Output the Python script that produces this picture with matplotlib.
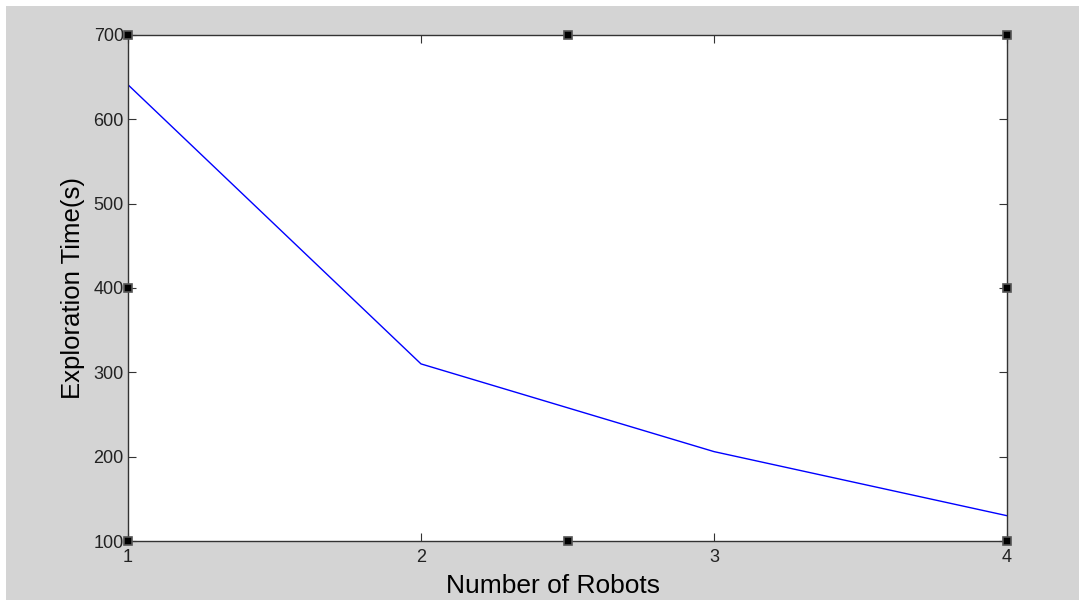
import matplotlib
matplotlib.use("Agg")
import matplotlib.pyplot as plt
from matplotlib.patches import Rectangle

robots = [1, 2, 3, 4]
exploration_time = [641, 310, 206, 130]
xticks = [1, 2, 3, 4]
yticks = [100, 200, 300, 400, 500, 600, 700]

plt.rcParams['font.family'] = ['Liberation Sans', 'DejaVu Sans']

W, H = 1079, 600
fig = plt.figure(figsize=(W / 100, H / 100), dpi=100, facecolor='white')
fig.patches.append(Rectangle((6 / W, 0), 1 - 6 / W, 1 - 6 / H, transform=fig.transFigure,
                             facecolor='#d4d4d4', edgecolor='none', zorder=-10))

ax = fig.add_axes([128 / W, 1 - 541 / H, (1007 - 128) / W, (541 - 35) / H])
ax.set_zorder(1)
ax.set_facecolor('white')
ax.plot(robots, exploration_time, color='#0000ff', linewidth=1.0)
ax.set_xlim(1, 4)
ax.set_ylim(100, 700)
ax.set_xticks(xticks)
ax.set_yticks(yticks)
ax.tick_params(direction='in', length=6, width=0.8, color='#333333', labelsize=13,
               top=True, right=True, labelcolor='#222222')
ax.tick_params(axis='x', pad=6)
ax.tick_params(axis='y', pad=3)
for s in ax.spines.values():
    s.set_color('#333333')
    s.set_linewidth(1.0)
ax.set_xlabel('Number of Robots', fontsize=19, labelpad=4)
ax.set_ylabel('Exploration Time(s)', fontsize=18.5, labelpad=6)
ax.xaxis.set_label_coords(0.483, -0.065)

# selection handles
hx = [0, 0.5, 1, 0, 1, 0, 0.5, 1]
hy = [1, 1, 1, 0.5, 0.5, 0, 0, 0]
ax.plot(hx, hy, linestyle='none', marker='s', markersize=6, markerfacecolor='black',
        markeredgecolor='#555555', markeredgewidth=1.2, transform=ax.transAxes,
        clip_on=False, zorder=5)

fig.savefig('out.png', dpi=100, facecolor='white')
